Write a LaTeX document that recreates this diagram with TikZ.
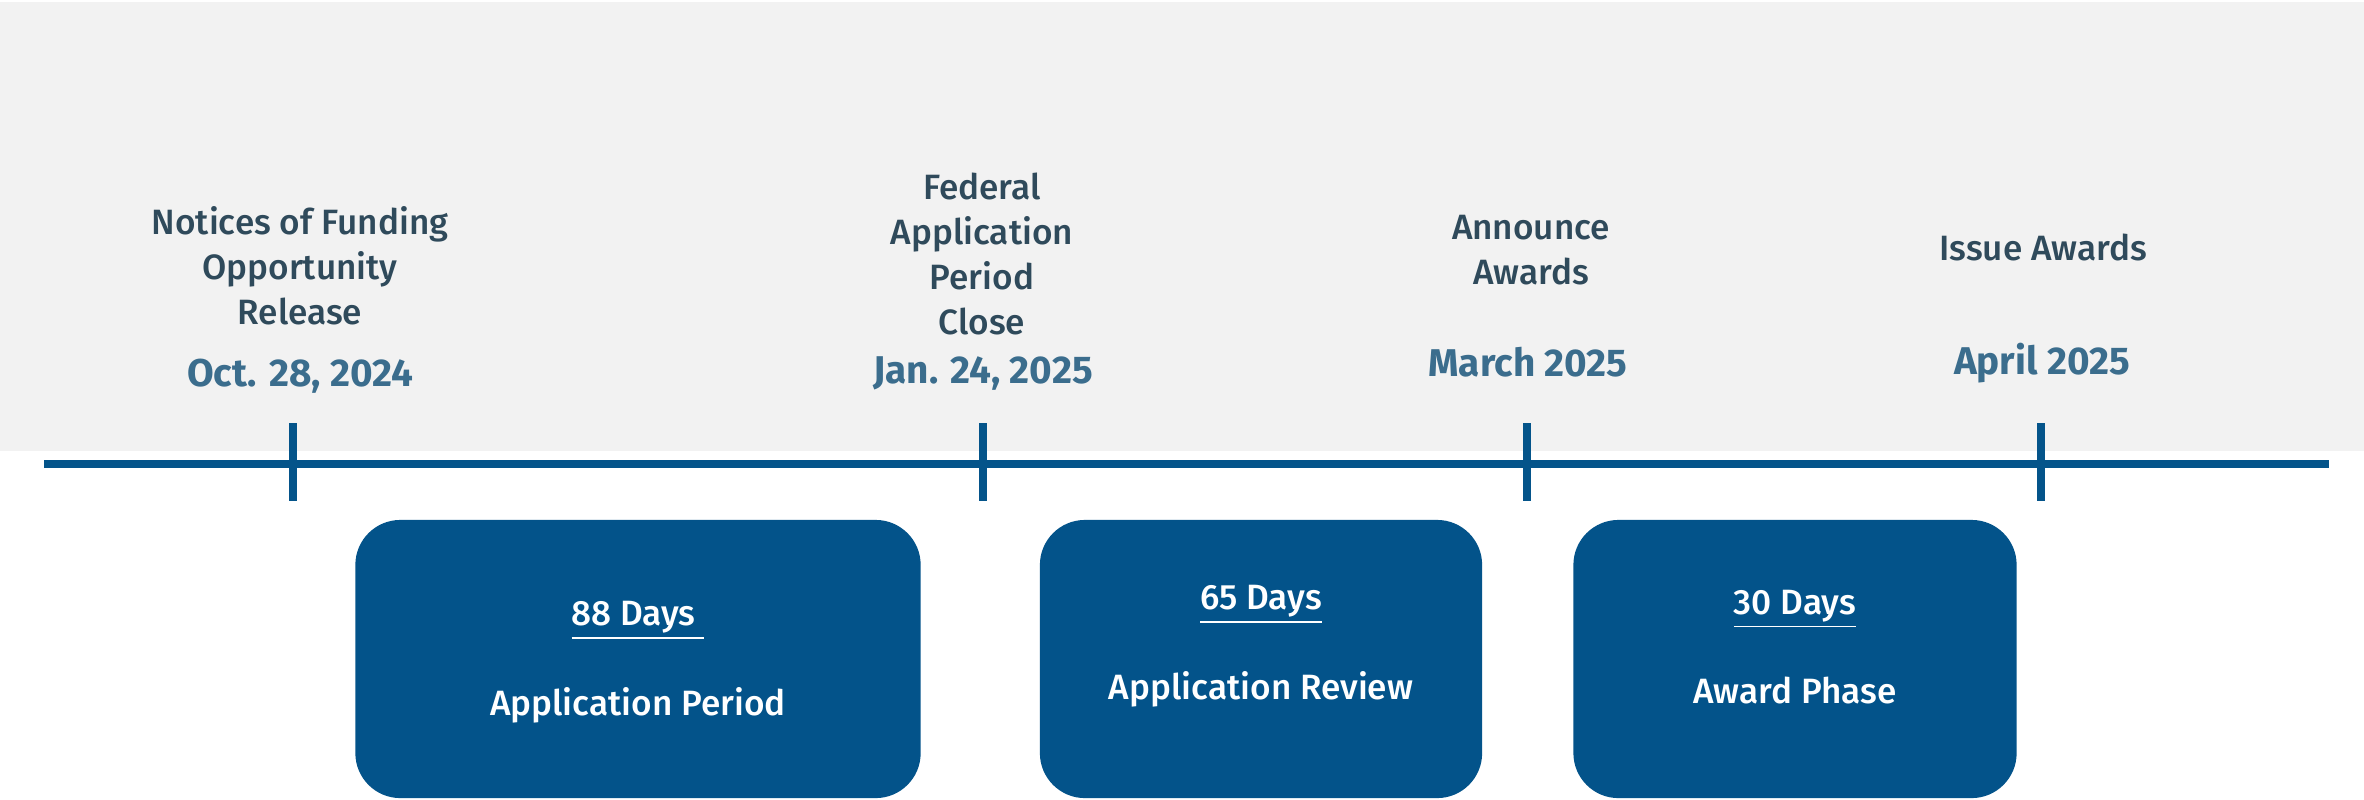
\documentclass[tikz,border=0pt]{standalone}
\usepackage{fontspec}
\setmainfont{Fira Sans}[UprightFont={* Medium}, BoldFont={* Bold}]
\usetikzlibrary{positioning}
\definecolor{bggray}{HTML}{F2F2F2}
\definecolor{lineblue}{HTML}{04548A}
\definecolor{boxblue}{HTML}{03538A}
\definecolor{labeltext}{HTML}{2F4A5B}
\definecolor{datetext}{HTML}{3B6D8D}

\tikzset{
	event/.style={align=center, text=labeltext, inner sep=0pt,
		font=\fontsize{10}{12.8}\selectfont},
	datelabel/.style={text=datetext, inner sep=0pt, anchor=base,
		font=\fontsize{11}{13}\selectfont\bfseries},
	phase/.style={fill=boxblue, rounded corners=0.45cm, minimum height=2.78cm},
	phasetext/.style={text=white, align=center, inner sep=0pt,
		font=\fontsize{10}{25.5}\selectfont},
	tickmark/.style={lineblue, line width=0.08cm}
}

\begin{document}
\begin{tikzpicture}[x=0.01cm, y=-0.01cm]
	\useasboundingbox (0,0) rectangle (2364,799);
	%background band
	\fill[bggray] (0,2) rectangle (2364,451);

	%time axis
	\coordinate (start) at (44,464);
	\coordinate (end) at (2329,464);
	\draw[lineblue, line width=0.08cm] (start) -- (end);

	\foreach \name/\x in {t1/293, t2/983, t3/1527, t4/2041}{
		\coordinate (\name) at (\x,464);
		\draw[tickmark] (\name) ++(0,-41) -- ++(0,78);
	}

	%milestones
	\node[event] (nofo) at (300,266) {Notices of Funding\\Opportunity\\Release};
	\node[event] (close) at (982,254) {Federal\\Application\\Period\\Close};
	\node[event] (announce) at (1531,250) {Announce\\Awards};
	\node[event] (issue) at (2043,247) {Issue Awards};

	\node[datelabel] (d1) at (300,386) {Oct. 28, 2024};
	\node[datelabel] (d2) at (983,383) {Jan. 24, 2025};
	\node[datelabel] (d3) at (1528,376) {March 2025};
	\node[datelabel] (d4) at (2042,374) {April 2025};

	%phases
	\node[phase, minimum width=5.65cm] (apply) at (638,659) {};
	\node[phase, minimum width=4.42cm] (review) at (1261,659) {};
	\node[phase, minimum width=4.43cm] (award) at (1795,659) {};

	\node[phasetext] (applytext) at ([yshift=-0.03cm]apply.center)
		{\underline{88 Days\ }\\Application Period};
	\node[phasetext] (reviewtext) at ([yshift=0.13cm]review.center)
		{\underline{65 Days}\\Application Review};
	\node[phasetext] (awardtext) at ([yshift=0.12cm]award.center)
		{\underline{30 Days}\\Award Phase};
\end{tikzpicture}
\end{document}
